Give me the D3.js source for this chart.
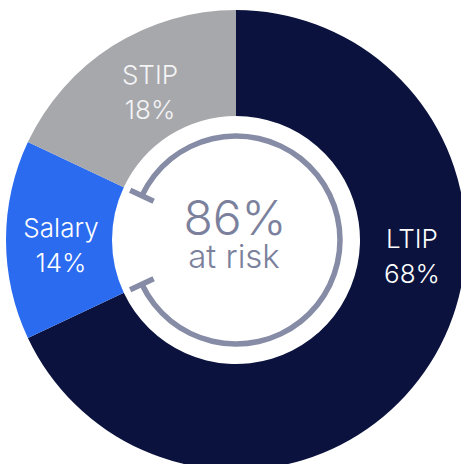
<!DOCTYPE html>
<html>
<head>
<meta charset="utf-8">
<script src="https://cdn.jsdelivr.net/npm/d3@7"></script>
<style>
  html, body { margin: 0; padding: 0; background: #ffffff; overflow: hidden; }
  svg { display: block; }
  text { font-family: Inter, "Noto Sans", sans-serif; }
</style>
</head>
<body>
<svg id="chart" width="461" height="464"></svg>
<script>
// Pay mix segments, clockwise from 12 o'clock
const categories = ["LTIP", "Salary", "STIP"];
const shares = [68, 14, 18];
const colors = ["#0a123d", "#2a6bf0", "#a7a8ac"];
const centerLines = ["86%", "at risk"];

const cx = 236, cy = 240;
const outerR = 230, innerR = 124;
const ringR = 104;

const svg = d3.select("#chart");
const g = svg.append("g").attr("transform", `translate(${cx},${cy})`);

const pie = d3.pie().sort(null).value(d => d.value);
const data = categories.map((c, i) => ({ name: c, value: shares[i], color: colors[i] }));
const arcs = pie(data);

const arc = d3.arc().innerRadius(innerR).outerRadius(outerR);
g.selectAll("path.slice")
  .data(arcs)
  .join("path")
  .attr("class", "slice")
  .attr("d", arc)
  .attr("fill", d => d.data.color);

// Slice labels: name on the first line, share on the second
const labelPos = {
  LTIP: [412, 248],
  Salary: [61, 237],
  STIP: [150, 84]
};
arcs.forEach(a => {
  const [x, y] = labelPos[a.data.name];
  const t = svg.append("text")
    .attr("x", x).attr("y", y)
    .attr("text-anchor", "middle")
    .attr("fill", a.data.name === "STIP" ? "#f4f4f5" : "#ffffff")
    .attr("font-size", 26)
    .attr("font-weight", 300);
  t.append("tspan").attr("x", x).text(a.data.name);
  t.append("tspan").attr("x", x).attr("dy", 35).text(a.data.value + "%");
});

// Ring spanning the at-risk share (start of STIP round to end of LTIP)
const stip = arcs.find(a => a.data.name === "STIP");
const ltip = arcs.find(a => a.data.name === "LTIP");
const a0 = stip.startAngle;
const a1 = 2 * Math.PI + ltip.endAngle;
const ringColor = "#878ca6";

g.append("path")
  .attr("d", d3.arc().innerRadius(ringR - 2.75).outerRadius(ringR + 2.75).startAngle(a0).endAngle(a1)())
  .attr("fill", ringColor);

// End caps of the ring
[a0, a1].forEach(a => {
  const s = Math.sin(a), c = -Math.cos(a);
  g.append("line")
    .attr("x1", s * (ringR - 13)).attr("y1", c * (ringR - 13))
    .attr("x2", s * (ringR + 13)).attr("y2", c * (ringR + 13))
    .attr("stroke", ringColor)
    .attr("stroke-width", 5.5);
});

// Center text
const center = svg.append("text")
  .attr("text-anchor", "middle")
  .attr("fill", "#7b819c")
  .attr("font-weight", 300);
center.append("tspan")
  .attr("x", 235).attr("y", 235)
  .attr("font-size", 48)
  .text(centerLines[0]);
center.append("tspan")
  .attr("x", 234).attr("y", 268)
  .attr("font-size", 33)
  .text(centerLines[1]);
</script>
</body>
</html>
